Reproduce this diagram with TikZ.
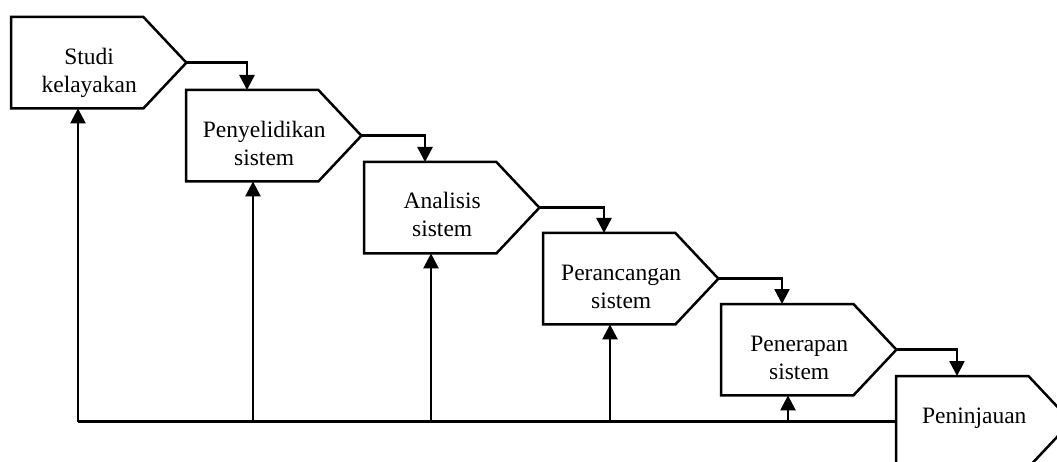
\documentclass[tikz,border=0pt]{standalone}
\usepackage{fontspec}
\setmainfont{Liberation Serif}
\usetikzlibrary{arrows.meta,calc}
\tikzset{
  stagerect/.style={rectangle, inner sep=0pt, minimum width=132pt, minimum height=91pt, anchor=north west},
  outline/.style={draw=black, line width=2.5pt, line join=miter},
  lbl/.style={align=center, inner sep=0pt, font=\fontsize{23.5}{28.5}\selectfont, anchor=base},
  conn/.style={draw=black, line width=2.5pt},
  arr/.style={conn, -{Triangle[width=15pt,length=15pt]}}
}
\newcommand{\stagebox}[5]{%
  \node[stagerect] (#1) at (#2,#3) {};
  \draw[outline] (#1.north west) -- (#1.north east) -- ([xshift=43pt]#1.east) coordinate (#1tip) -- (#1.south east) -- (#1.south west) -- cycle;
  \node[lbl] (#1text) at ([xshift=12pt,yshift=#5]#1.center) {#4};
  \coordinate (#1in) at ([xshift=61pt]#1.north west);
  \coordinate (#1up) at ([xshift=67pt]#1.south west);
}
\begin{document}
\begin{tikzpicture}[x=1pt,y=-1pt]
\useasboundingbox (0,0) rectangle (1057,462);
\clip (0,0) rectangle (1057,462);
\fill[white] (0,0) rectangle (1057,462);
\stagebox{b1}{11}{17}{Studi\\kelayakan}{-30pt}
\stagebox{b2}{186}{90}{Penyelidikan\\sistem}{-30pt}
\stagebox{b3}{364}{162}{Analisis\\sistem}{-29pt}
\stagebox{b4}{543}{233}{Perancangan\\sistem}{-30pt}
\stagebox{b5}{721}{304}{Penerapan\\sistem}{-30pt}
\stagebox{b6}{896}{376}{Peninjauan}{-1.5pt}
% forward connectors
\draw[arr] (b1tip) -| (b2in);
\draw[arr] (b2tip) -| (b3in);
\draw[arr] (b3tip) -| (b4in);
\draw[arr] (b4tip) -| (b5in);
\draw[arr] (b5tip) -| (b6in);
% feedback line
\draw[conn] (b6.west) -- (b1up |- b6.west);
\draw[arr] (b1up |- b6.west) -- (b1up);
\draw[arr] (b2up |- b6.west) -- (b2up);
\draw[arr] (b3up |- b6.west) -- (b3up);
\draw[arr] (b4up |- b6.west) -- (b4up);
\draw[arr] (b5up |- b6.west) -- (b5up);
\end{tikzpicture}
\end{document}
